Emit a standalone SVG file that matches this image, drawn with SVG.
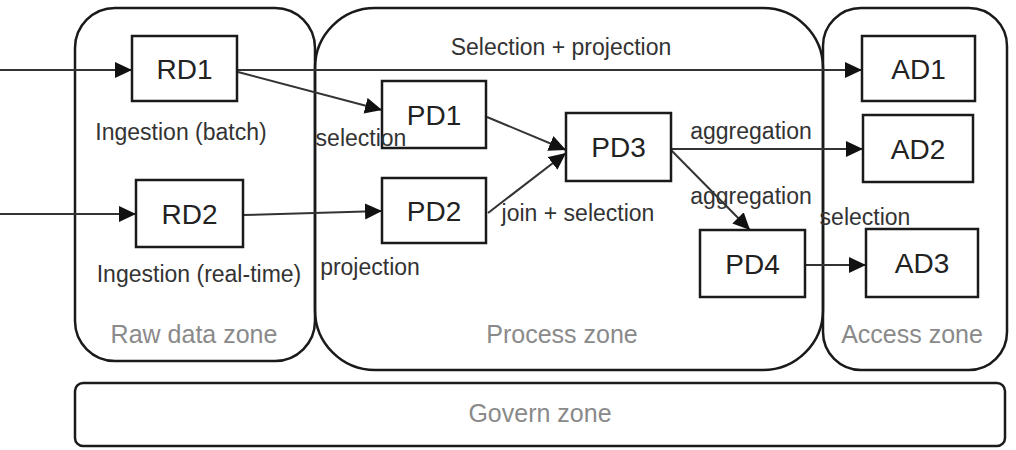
<svg xmlns="http://www.w3.org/2000/svg" width="1016" height="450" viewBox="0 0 1016 450">
<style>
.zone{fill:none;stroke:#1a1a1a;stroke-width:2.5}
.node rect{fill:#fff;stroke:#1a1a1a;stroke-width:2.5}
.node text{font-family:"Liberation Sans",Arial,sans-serif;font-size:28px;fill:#222;text-anchor:middle}
.zl{font-family:"Liberation Sans",Arial,sans-serif;font-size:25px;fill:#8a8a8a;text-anchor:middle}
.lbl{font-family:"Liberation Sans",Arial,sans-serif;font-size:23px;fill:#333;text-anchor:middle}
.edge{fill:none;stroke:#333;stroke-width:2;marker-end:url(#ah)}
</style>
<defs>
<marker id="ah" markerUnits="userSpaceOnUse" markerWidth="18" markerHeight="18" refX="17" refY="8" orient="auto">
<path d="M0,0 L17,8 L0,16 Z" fill="#111"/>
</marker>
</defs>
<rect width="1016" height="450" fill="#fff"/>
<g id="zones">
<g id="raw-zone"><rect class="zone" x="75" y="8" width="240" height="353" rx="40"/><text class="zl" x="194" y="343">Raw data zone</text></g>
<g id="process-zone"><rect class="zone" x="315" y="8" width="508" height="362" rx="60"/><text class="zl" x="562" y="343">Process zone</text></g>
<g id="access-zone"><rect class="zone" x="823" y="8" width="184" height="362" rx="38"/><text class="zl" x="912" y="343">Access zone</text></g>
<g id="govern-zone"><rect class="zone" x="75" y="383" width="930" height="63" rx="8"/><text class="zl" x="540" y="422">Govern zone</text></g>
</g>
<g id="connectors">
<line class="edge" x1="0" y1="70" x2="132" y2="70"/>
<line class="edge" x1="0" y1="214" x2="136" y2="214"/>
<line class="edge" x1="237" y1="70" x2="862" y2="70"/>
<line class="edge" x1="238" y1="72" x2="382" y2="110"/>
<line class="edge" x1="243" y1="215" x2="382" y2="211"/>
<line class="edge" x1="487" y1="117" x2="566" y2="150"/>
<line class="edge" x1="488" y1="213" x2="566" y2="153"/>
<line class="edge" x1="671" y1="149" x2="863" y2="149"/>
<line class="edge" x1="671" y1="150" x2="750" y2="230"/>
<line class="edge" x1="805" y1="265" x2="866" y2="265"/>
</g>
<g id="RD1" class="node"><rect x="132" y="36" width="105" height="65"/><text x="184.5" y="79">RD1</text></g>
<g id="RD2" class="node"><rect x="136" y="180" width="107" height="67"/><text x="189.5" y="224">RD2</text></g>
<g id="PD1" class="node"><rect x="382" y="81" width="104" height="67"/><text x="434" y="125">PD1</text></g>
<g id="PD2" class="node"><rect x="382" y="178" width="104" height="65"/><text x="434" y="221">PD2</text></g>
<g id="PD3" class="node"><rect x="566" y="113" width="105" height="68"/><text x="618.5" y="157">PD3</text></g>
<g id="PD4" class="node"><rect x="700" y="230" width="105" height="67"/><text x="752.5" y="274">PD4</text></g>
<g id="AD1" class="node"><rect x="862" y="36" width="113" height="65"/><text x="918.5" y="79">AD1</text></g>
<g id="AD2" class="node"><rect x="863" y="115" width="110" height="67"/><text x="918" y="159">AD2</text></g>
<g id="AD3" class="node"><rect x="866" y="229" width="112" height="68"/><text x="922" y="273">AD3</text></g>
<g id="labels">
<text class="lbl" x="561" y="55">Selection + projection</text>
<text class="lbl" x="181" y="140">Ingestion (batch)</text>
<text class="lbl" x="199" y="282">Ingestion (real-time)</text>
<text class="lbl" x="361" y="146">selection</text>
<text class="lbl" x="370" y="275">projection</text>
<text class="lbl" x="578" y="221">join + selection</text>
<text class="lbl" x="751" y="139">aggregation</text>
<text class="lbl" x="751" y="204">aggregation</text>
<text class="lbl" x="865" y="225">selection</text>
</g>
</svg>
